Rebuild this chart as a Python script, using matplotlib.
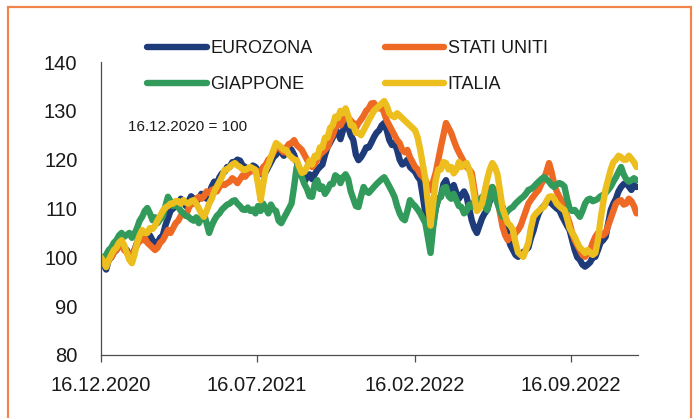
import matplotlib
matplotlib.use("Agg")
import matplotlib.pyplot as plt
from matplotlib.patches import Rectangle
import pandas as pd

plt.rcParams['font.family'] = ['Liberation Sans', 'DejaVu Sans']

# Twice-weekly index levels, base 16.12.2020 = 100
start_date = "2020-12-16"
step = "84h"

eurozona = [
    100, 98.5, 97.5, 99.5, 100, 101, 101.5, 102.5, 103, 102,
    101.5, 100.5, 100, 101.5, 103, 104.5, 104.5, 103.5, 104, 104.5,
    103.5, 102.5, 103, 104, 104.5, 106.5, 108, 109.5, 110, 110.5,
    111, 112, 111.5, 110.5, 111.5, 112.5, 112, 111.5, 112, 113,
    112.5, 112, 113, 114.5, 115.5, 115, 116.4, 117.2, 117.5, 118.5,
    118.5, 119.5, 119.5, 120, 119.8, 118.8, 118.5, 117.5, 118, 118.8,
    118.5, 117.8, 117.5, 116.8, 117.5, 118.5, 119.5, 120.5, 121, 122,
    121.5, 120.8, 121.5, 122.5, 122, 121, 119.5, 118, 117, 115.5,
    116.4, 117, 116, 117, 117.9, 118.5, 119, 121, 122.6, 123.5,
    124.5, 126.2, 125.5, 124.2, 126, 127.3, 126.7, 125, 124, 121,
    119.9, 120.5, 121.4, 122.5, 122.5, 123.5, 124.6, 125.5, 126, 127,
    127.5, 126, 124, 123, 123.4, 122, 120, 119, 119.3, 120,
    118.5, 118, 117.5, 116.5, 115.8, 112.5, 109, 105, 103.5, 107,
    110, 112, 112.4, 115, 115.8, 114, 113.8, 114.8, 113.2, 112,
    112.8, 113.5, 112.4, 110, 107.6, 106, 105, 106.5, 108, 109,
    109.7, 111.5, 113.2, 113.5, 112, 111.5, 110.3, 107.5, 104.2, 102.5,
    101.5, 100.5, 100.1, 100.8, 101, 101.5, 102, 104, 105.5, 107.5,
    109, 110, 110.5, 111.2, 111.7, 111, 110.5, 110, 109.7, 108.5,
    107.5, 106.5, 105.6, 103.5, 101.5, 100, 99.5, 98.5, 98.1, 98.5,
    99, 100, 100.1, 101.5, 103, 103.5, 104.2, 107, 109.7, 111,
    112, 113.5, 114.4, 115, 115.2, 114.5, 113.8, 114.8, 114.4,
]

stati_uniti = [
    100, 99, 98.5, 99.5, 100, 101, 101.5, 102.5, 102.5, 101.5,
    101, 100, 100.5, 101.5, 102.5, 103.5, 103.5, 104, 103, 102.5,
    102, 101.5, 102, 103, 103.5, 104.5, 105.6, 105, 106, 107,
    107.5, 108.5, 109, 108.5, 110, 111, 111, 112, 112.4, 112,
    112.5, 113.5, 113.2, 113.8, 114, 113.5, 114.4, 115, 114.8, 115.2,
    115.5, 116.2, 115.8, 115.2, 116, 116.8, 116.5, 117.2, 117.5, 118,
    117.9, 117, 117.5, 118.5, 119, 120, 120.5, 121.5, 122.6, 122.8,
    122, 121.5, 122.5, 123.2, 123.4, 124, 123, 122.5, 122, 121,
    120, 119, 118.5, 119.2, 120, 121, 121.5, 122, 122.6, 124,
    125, 126.5, 127.5, 127, 128, 129, 128.7, 128, 127.5, 126.5,
    127.5, 128.2, 129, 130, 130.5, 131.5, 131.6, 130.8, 130.5, 131,
    129.5, 128, 127, 126, 125, 124, 123.4, 122, 121.5, 122,
    120.5, 119.5, 118.5, 118, 117, 116.5, 115.8, 114.5, 113.8, 115.5,
    117.3, 120, 122.6, 125, 127.5, 126.5, 125.5, 124, 122.6, 121.5,
    120.5, 119.5, 118.5, 118, 117.3, 114, 110.3, 110.8, 111.5, 112.5,
    113.2, 114, 114.4, 113.5, 112, 109, 106.2, 104.5, 103.5, 104.2,
    104, 105, 105.6, 106.5, 108, 109.5, 111, 111.8, 112.5, 113.2,
    113.8, 115, 116, 117.5, 119.3, 117.5, 115, 113.5, 112.4, 111.5,
    110.3, 108.5, 107, 105, 103.5, 102.5, 101.5, 100.5, 100.1, 100.8,
    101.5, 103, 104.2, 105, 105, 104.5, 105, 106.5, 108, 109.5,
    111, 111.5, 111.7, 110.8, 111, 112, 111.5, 110.5, 109,
]

giappone = [
    100, 100, 100.5, 101.5, 102, 103, 103.5, 104.5, 105, 104.2,
    104.6, 105, 104, 104.8, 106, 107.5, 108.3, 109.5, 110.1, 109,
    107.6, 108.2, 107, 107.8, 108.3, 110.5, 112.4, 111.5, 110.5, 111,
    110.3, 109.5, 109, 108.5, 108.3, 107.8, 107.5, 108.2, 107, 108,
    109, 107, 105, 106.5, 107.6, 108.5, 109, 109.8, 110.3, 110.8,
    111, 111.5, 111.7, 111, 110.5, 109.8, 109.7, 110.2, 109.5, 109.8,
    109, 110.5, 109.5, 111, 110, 109, 110.8, 109.8, 109.5, 107.5,
    107, 108, 109, 110, 111, 114.5, 118.5, 117.5, 116.4, 115,
    114, 112.5, 112.4, 115, 115.8, 114, 114.5, 113, 113.8, 115,
    115, 116.8, 116.4, 115.2, 116.4, 117, 116, 113.5, 112, 110.5,
    110.3, 112.5, 114.4, 113.5, 113.2, 113.8, 114.4, 115, 115.5, 116,
    116.4, 115.5, 114.5, 113.5, 112.4, 110.5, 109, 108, 107.6, 109.5,
    111.7, 111, 110.5, 109.8, 109, 108, 107, 104, 100.9, 106,
    110, 112, 112.4, 114.2, 114.4, 112.5, 112, 113, 111.7, 110.5,
    110.3, 109, 109.5, 110.8, 110.3, 111.5, 110, 111.5, 112.4, 110.5,
    109.7, 112, 114.4, 112.5, 111, 109.5, 108.3, 108.8, 109.5, 110,
    110.3, 111, 111.5, 112, 112.4, 113, 113.8, 114, 114.4, 115,
    115.5, 116, 116.4, 116, 115.5, 114.8, 114.4, 115, 115.2, 115,
    114.5, 112, 110, 109.5, 109.7, 109, 108.3, 109.5, 111, 111.8,
    112, 111.5, 111.7, 112, 112.5, 112.8, 113.2, 113.8, 114.5, 115.5,
    116.4, 117.5, 118.5, 117, 116, 115.5, 115.8, 116.2, 115.8,
]

italia = [
    100, 99, 98, 99.5, 100.5, 101.5, 102, 103, 103.5, 102.5,
    101, 99.5, 98.8, 100.5, 103, 104.5, 105.6, 105, 105, 106,
    105.8, 106.5, 107.6, 108.5, 109.5, 110.2, 110.5, 111, 111, 111.5,
    111.5, 111, 111.7, 111.2, 111, 111.5, 111.7, 111, 110, 109,
    108.3, 109.5, 111, 112, 113.5, 114.5, 115.5, 116.5, 117.9, 118,
    118.5, 119, 119.3, 118.8, 118.5, 118, 117.9, 118.2, 118.5, 118.2,
    117.9, 115, 111.7, 115, 117.9, 119, 120.5, 122, 123.4, 123,
    122.5, 122, 122, 121, 120.5, 120, 119.9, 118.5, 117.3, 117.5,
    118.5, 119.8, 119, 120.8, 120.5, 122.5, 122.5, 124.5, 124.5, 126.5,
    127, 128.8, 128.5, 130, 129.5, 130.5, 129, 127, 127, 125.5,
    125.5, 125, 126, 127, 128.1, 129, 130, 130.5, 131, 131.5,
    132, 131, 129.5, 129, 128.7, 129.5, 129, 128.5, 128, 127.5,
    127, 126.5, 126, 124.5, 122, 119, 116, 111, 106.5, 111,
    115.8, 118, 118, 119.5, 119.3, 118, 118.5, 117.2, 117.9, 119.5,
    118.5, 119, 119.3, 118, 116, 112.5, 109.5, 110, 111, 113.5,
    116, 118, 119.3, 118.5, 117, 113.5, 110, 108.5, 107, 106.5,
    105.6, 103, 101, 100.5, 100.1, 101.5, 103, 106, 108.3, 109,
    109.5, 110, 110.3, 111.5, 112.4, 112.5, 112, 111, 110.5, 110,
    109.7, 108, 106, 105, 104.2, 103, 102, 101.5, 100.9, 101.5,
    101, 100.5, 100.9, 103.5, 107.6, 111, 114, 116, 118, 119.5,
    120, 120.8, 120.5, 120, 120, 120.8, 120.2, 119.5, 118.5,
]

series_names = ["EUROZONA", "STATI UNITI", "GIAPPONE", "ITALIA"]
series_colors = ["#1f3c7a", "#ee6a24", "#329b5c", "#ecbe1e"]

tick_dates = ["2020-12-16", "2021-07-16", "2022-02-16", "2022-09-16"]
y_ticks = [80, 90, 100, 110, 120, 130, 140]

W, H = 694, 418
fig = plt.figure(figsize=(W / 100, H / 100), dpi=100)
ax = fig.add_axes([101 / W, 1 - 355 / H, (638 - 101) / W, (355 - 62) / H])

lines = {}
for name, vals, col in zip(series_names, [eurozona, stati_uniti, giappone, italia], series_colors):
    d = pd.date_range(start_date, periods=len(vals), freq=step)
    (ln,) = ax.plot(d, vals, color=col, lw=4.6, label=name,
                    solid_capstyle="round", solid_joinstyle="round")
    lines[name] = ln

ax.set_ylim(80, 140)
ax.set_xlim(pd.Timestamp("2020-12-16"), pd.Timestamp("2022-12-16"))
ax.set_yticks(y_ticks)
ax.set_yticklabels([str(v) for v in y_ticks])
ax.set_xticks([pd.Timestamp(d) for d in tick_dates])
ax.set_xticklabels([pd.Timestamp(d).strftime("%d.%m.%Y") for d in tick_dates])

for s in ["top", "right"]:
    ax.spines[s].set_visible(False)
for s in ["left", "bottom"]:
    ax.spines[s].set_color("#4d4d4d")
    ax.spines[s].set_linewidth(0.9)

ax.tick_params(axis="y", length=0, pad=17, labelsize=14.5, colors="#1a1a1a")
ax.tick_params(axis="x", length=5, width=0.9, color="#4d4d4d", direction="out",
               pad=10, labelsize=14.5, labelcolor="#1a1a1a")

# Two-column legend: EUROZONA / STATI UNITI on the first row
order = ["EUROZONA", "GIAPPONE", "STATI UNITI", "ITALIA"]
leg = ax.legend([lines[n] for n in order], order,
                loc="upper left", bbox_to_anchor=(147 / W, 1 - 40 / H),
                bbox_transform=fig.transFigure, ncol=2, frameon=False,
                fontsize=13, handlelength=3.3, handletextpad=0.2,
                columnspacing=4.0, labelspacing=1.05, borderpad=0, borderaxespad=0)
for t in leg.get_texts():
    t.set_color("#1a1a1a")

fig.text(128 / W, 1 - 127 / H, "16.12.2020 = 100", fontsize=11, va="center", ha="left",
         color="#1a1a1a")

fig.patches.append(Rectangle((8 / W, -0.02), (691 - 8) / W, 1.02 - 7 / H,
                             transform=fig.transFigure, fill=False,
                             edgecolor="#f2854c", linewidth=1.6))

fig.savefig("out.png", dpi=100)
